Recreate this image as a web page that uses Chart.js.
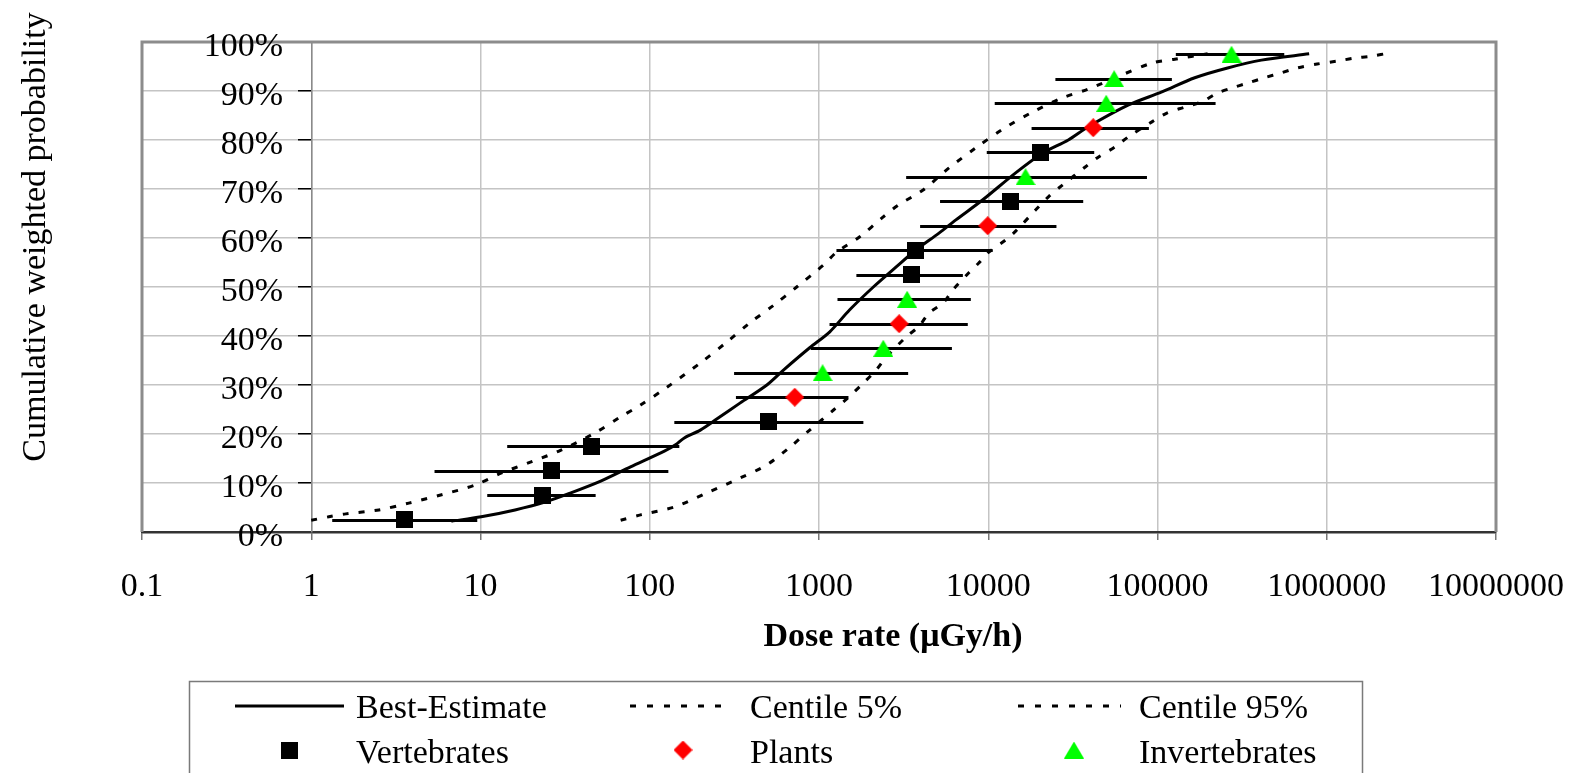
<!DOCTYPE html>
<html>
<head>
<meta charset="utf-8">
<script src="https://cdn.jsdelivr.net/npm/chart.js@4.4.0/dist/chart.umd.min.js"></script>
<style>
  html, body { margin: 0; padding: 0; background: #fff; }
</style>
</head>
<body>
<canvas id="chart" width="1591" height="773"></canvas>
<script>
const FONT = '"Liberation Serif", "Times New Roman", serif';

// Axis ticks
const xTickValues = [0.1, 1, 10, 100, 1000, 10000, 100000, 1000000, 10000000];
const xTickLabels = ['0.1', '1', '10', '100', '1000', '10000', '100000', '1000000', '10000000'];
const yTickValues = [0, 10, 20, 30, 40, 50, 60, 70, 80, 90, 100];

// Best-estimate curve (dose rate, cumulative %)
const bestX = [6.73, 10.1, 16.0, 24.0, 34.2, 51.3, 77.0, 122, 142, 160, 199, 250, 341, 492, 619, 881,
  1154, 1514, 2094, 2858, 3750, 5117, 6441, 9290, 14520, 20910, 29720, 38990, 66990, 106100, 166000,
  259400, 411100, 787000];
const bestY = [2.2, 3.1, 4.5, 6.1, 8.0, 10.4, 13.3, 16.5, 17.8, 19.2, 20.8, 23.1, 26.3, 30.0, 33.1, 37.6,
  40.8, 45.3, 50.0, 54.1, 57.6, 61.0, 63.7, 67.8, 73.3, 77.3, 80.0, 82.7, 87.1, 89.8, 92.7,
  94.7, 96.3, 97.6];

// Centile 5% curve
const c5X = [1.0, 1.27, 1.60, 2.51, 3.77, 5.89, 9.32, 13.2, 19.9, 29.9, 47.3, 67.3, 88.2, 127, 199, 286,
  391, 541, 738, 1064, 1269, 1733, 2397, 2938, 4121, 5862, 8449, 12170, 18270, 27420, 38990, 61780,
  92680, 126500, 197800];
const c5Y = [2.4, 3.1, 3.7, 4.5, 5.9, 7.6, 9.6, 12.0, 14.3, 16.7, 20.2, 23.5, 25.9, 29.6, 34.5, 38.8,
  42.7, 46.3, 50.0, 54.5, 57.1, 60.2, 64.3, 66.7, 69.8, 74.3, 78.4, 82.2, 85.7, 88.6, 90.4, 93.3,
  95.7, 96.5, 97.6];

// Centile 95% curve
const c95X = [67.3, 88.2, 140, 218, 341, 492, 672, 881, 1219, 1453, 1829, 2182, 2497, 3273, 3902, 4467,
  5405, 6181, 7679, 8790, 10070, 12680, 14520, 19020, 22680, 27420, 37430, 44650, 56200, 66990, 92680,
  113500, 144900, 182400, 226400, 273700, 339700, 427600, 538300, 668300, 877000, 1151000, 1449000,
  1820000, 2388000];
const c95Y = [2.4, 3.5, 5.1, 8.0, 11.0, 13.7, 17.3, 20.8, 24.9, 27.1, 30.4, 33.1, 35.7, 39.8, 42.0, 44.7,
  46.7, 49.4, 52.9, 54.9, 57.1, 59.6, 61.4, 65.7, 68.4, 70.8, 74.5, 76.5, 78.6, 80.6, 83.7,
  85.5, 86.7, 87.8, 89.6, 90.6, 91.6, 92.7, 93.7, 94.7, 95.5, 96.1, 96.7,
  97.1, 97.8];

// Vertebrates
const vertX = [3.56, 23.4, 26.1, 45.4, 506, 3502, 3700, 13560, 20370];
const vertY = [2.5, 7.5, 12.5, 17.5, 22.5, 52.5, 57.5, 67.5, 77.5];
const vertLow = [1.33, 10.96, 5.35, 14.38, 139.7, 1663, 1268, 5190, 9800];
const vertHigh = [9.57, 47.9, 128.8, 149.5, 1829, 7080, 10620, 36400, 42280];

// Plants
const plantX = [719, 2977, 9930, 41690];
const plantY = [27.5, 42.5, 62.5, 82.5];
const plantLow = [323, 1154, 3957, 18030];
const plantHigh = [1493, 7570, 25290, 88950];

// Invertebrates
const invX = [1050, 2397, 3319, 16610, 49760, 55450, 273700];
const invY = [32.5, 37.5, 47.5, 72.5, 87.5, 92.5, 97.5];
const invLow = [315, 893, 1286, 3273, 10920, 24930, 128300];
const invHigh = [3363, 6100, 7890, 86640, 220400, 121600, 561000];

const toXY = (xs, ys) => xs.map((x, i) => ({ x, y: ys[i] }));
const toBars = (xs, ys, lo, hi) => xs.map((x, i) => ({ x, y: ys[i], lo: lo[i], hi: hi[i] }));

const curveDash = [6, 10];

// small canvases used as point styles
function makeMarker(shape, w, h, color) {
  const c = document.createElement('canvas');
  c.width = w;
  c.height = h;
  const g = c.getContext('2d');
  g.fillStyle = color;
  g.beginPath();
  if (shape === 'square') {
    g.rect(0, 0, w, h);
  } else if (shape === 'diamond') {
    g.moveTo(w / 2, 0);
    g.lineTo(w, h / 2);
    g.lineTo(w / 2, h);
    g.lineTo(0, h / 2);
    g.closePath();
  } else {
    g.moveTo(w / 2, 0);
    g.lineTo(w, h);
    g.lineTo(0, h);
    g.closePath();
  }
  g.fill();
  return c;
}
const squareMark = makeMarker('square', 17, 17, '#000000');
const diamondMark = makeMarker('diamond', 19, 19, '#ff0000');
const triangleMark = makeMarker('triangle', 20, 17, '#00ff00');

// horizontal error bars, drawn just before each marker dataset
const errorBars = {
  id: 'errorBars',
  beforeDatasetDraw(chart, args) {
    const ds = chart.data.datasets[args.index];
    if (!ds.errorBars) return;
    const { ctx, scales: { x, y } } = chart;
    ctx.save();
    ctx.strokeStyle = '#000';
    ctx.lineWidth = 3;
    ds.data.forEach((p) => {
      const py = Math.round(y.getPixelForValue(p.y)) + 0.5;
      ctx.beginPath();
      ctx.moveTo(x.getPixelForValue(p.lo), py);
      ctx.lineTo(x.getPixelForValue(p.hi), py);
      ctx.stroke();
    });
    ctx.restore();
  },
};

// grey frame round the plot area
const plotFrame = {
  id: 'plotFrame',
  beforeDatasetsDraw(chart) {
    const { ctx, chartArea: a } = chart;
    ctx.save();
    ctx.strokeStyle = '#8c8c8c';
    ctx.lineWidth = 3;
    ctx.beginPath();
    ctx.moveTo(a.left, a.bottom);
    ctx.lineTo(a.left, a.top);
    ctx.lineTo(a.right, a.top);
    ctx.lineTo(a.right, a.bottom);
    ctx.stroke();
    ctx.restore();
  },
};

// y tick labels, left of the axis that crosses at x = 1
const yLabels = {
  id: 'yLabels',
  afterDraw(chart) {
    const { ctx, scales: { y } } = chart;
    ctx.save();
    ctx.fillStyle = '#000';
    ctx.font = '34px ' + FONT;
    ctx.textAlign = 'right';
    ctx.textBaseline = 'middle';
    yTickValues.forEach((v) => {
      ctx.fillText(v + '%', 283, y.getPixelForValue(v) + 5);
    });
    ctx.restore();
  },
};

// axis titles and the boxed legend
const titlesAndLegend = {
  id: 'titlesAndLegend',
  afterDraw(chart) {
    const { ctx } = chart;
    ctx.save();
    ctx.fillStyle = '#000';
    ctx.textBaseline = 'middle';

    ctx.font = 'bold 34px ' + FONT;
    ctx.textAlign = 'center';
    ctx.fillText('Dose rate (μGy/h)', 893, 637);

    ctx.save();
    ctx.translate(36, 237);
    ctx.rotate(-Math.PI / 2);
    ctx.font = '34px ' + FONT;
    ctx.fillText('Cumulative weighted probability', 0, 0);
    ctx.restore();

    // legend box
    ctx.strokeStyle = '#7a7a7a';
    ctx.lineWidth = 1.5;
    ctx.strokeRect(189.5, 681.5, 1173, 140);

    ctx.font = '34px ' + FONT;
    ctx.textAlign = 'left';
    const ds = chart.data.datasets;
    const lines = [
      { d: ds[3], x0: 235, x1: 344, tx: 356 },
      { d: ds[4], x0: 630, x1: 731, tx: 750 },
      { d: ds[5], x0: 1018, x1: 1121, tx: 1139 },
    ];
    lines.forEach((l) => {
      ctx.strokeStyle = '#000';
      ctx.lineWidth = 3;
      ctx.setLineDash(l.d.borderDash ? [6, 11] : []);
      ctx.beginPath();
      ctx.moveTo(l.x0, 706);
      ctx.lineTo(l.x1, 706);
      ctx.stroke();
      ctx.setLineDash([]);
      ctx.fillText(l.d.label, l.tx, 709);
    });
    const marks = [
      { d: ds[0], cx: 289, tx: 356 },
      { d: ds[1], cx: 683, tx: 750 },
      { d: ds[2], cx: 1074, tx: 1139 },
    ];
    marks.forEach((m) => {
      const img = m.d.pointStyle;
      ctx.drawImage(img, m.cx - img.width / 2, 750 - img.height / 2);
      ctx.fillText(m.d.label, m.tx, 754);
    });
    ctx.restore();
  },
};

const ctx = document.getElementById('chart');
// eslint-disable-next-line no-unused-vars
const chart = new Chart(ctx, {
  type: 'scatter',
  data: {
    datasets: [
      {
        label: 'Vertebrates',
        data: toBars(vertX, vertY, vertLow, vertHigh),
        errorBars: true,
        pointStyle: squareMark,
        pointRadius: 9,
        backgroundColor: '#000000',
        order: 1,
      },
      {
        label: 'Plants',
        data: toBars(plantX, plantY, plantLow, plantHigh),
        errorBars: true,
        pointStyle: diamondMark,
        pointRadius: 9,
        backgroundColor: '#ff0000',
        order: 1,
      },
      {
        label: 'Invertebrates',
        data: toBars(invX, invY, invLow, invHigh),
        errorBars: true,
        pointStyle: triangleMark,
        pointRadius: 9,
        backgroundColor: '#00ff00',
        order: 1,
      },
      {
        label: 'Best-Estimate',
        data: toXY(bestX, bestY),
        showLine: true,
        borderColor: '#000',
        borderWidth: 3,
        pointRadius: 0,
        tension: 0.3,
        order: 3,
      },
      {
        label: 'Centile 5%',
        data: toXY(c5X, c5Y),
        showLine: true,
        borderColor: '#000',
        borderWidth: 3,
        borderDash: curveDash,
        pointRadius: 0,
        tension: 0.3,
        order: 3,
      },
      {
        label: 'Centile 95%',
        data: toXY(c95X, c95Y),
        showLine: true,
        borderColor: '#000',
        borderWidth: 3,
        borderDash: curveDash,
        pointRadius: 0,
        tension: 0.3,
        order: 3,
      },
    ],
  },
  options: {
    responsive: false,
    animation: false,
    layout: {
      padding: { top: 42, left: 142, right: 88, bottom: 0 },
    },
    scales: {
      x: {
        type: 'logarithmic',
        min: 0.1,
        max: 10000000,
        afterFit: (scale) => { scale.height = 241; },
        afterBuildTicks: (scale) => { scale.ticks = xTickValues.map((v) => ({ value: v, major: true })); },
        grid: {
          color: '#c4c4c4',
          lineWidth: 1.5,
          tickLength: 8,
          tickColor: '#777',
        },
        border: { color: '#333', width: 2.5 },
        ticks: {
          autoSkip: false,
          maxRotation: 0,
          padding: 27,
          color: '#000',
          font: { family: FONT, size: 34 },
          callback: (v) => xTickLabels[xTickValues.indexOf(v)],
        },
      },
      y: {
        type: 'linear',
        position: { x: 1 },
        min: 0,
        max: 100,
        afterBuildTicks: (scale) => { scale.ticks = yTickValues.map((v) => ({ value: v })); },
        grid: {
          color: '#c4c4c4',
          lineWidth: 1.5,
          tickLength: 13,
          tickColor: '#000',
        },
        border: { color: '#8a8a8a', width: 1.5 },
        ticks: { display: false },
      },
    },
    plugins: {
      legend: { display: false },
      tooltip: { enabled: false },
    },
  },
  plugins: [errorBars, plotFrame, yLabels, titlesAndLegend],
});
</script>
</body>
</html>
